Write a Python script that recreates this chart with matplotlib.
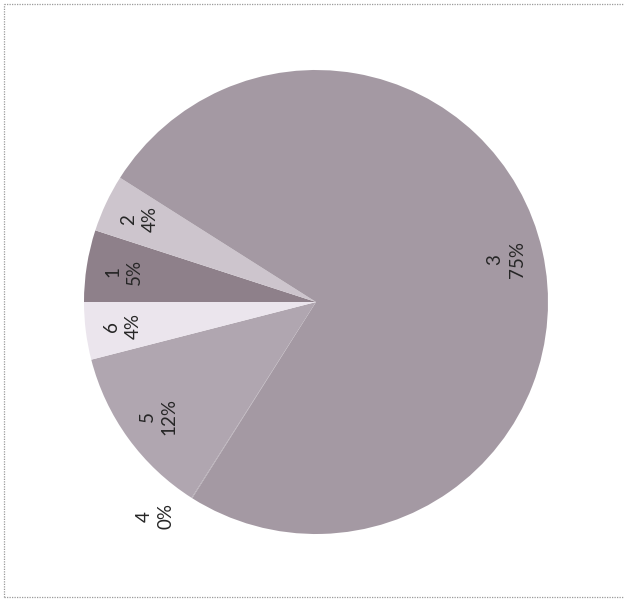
import matplotlib.pyplot as plt
import numpy as np

# slice data (order as drawn clockwise from the left)
categories = ['1', '2', '3', '4', '5', '6']
values = [5, 4, 75, 0.05, 12, 4]
pct_labels = ['5%', '4%', '75%', '0%', '12%', '4%']
colors = ['#8e808a', '#cdc5cd', '#a499a3', '#a89ea8', '#b0a6b0', '#ebe5ed']

plt.rcParams['font.family'] = ['Lato', 'DejaVu Sans']

fig = plt.figure(figsize=(6.24, 6.02), dpi=100)
W, H = 624, 602
cx, cy, r = 316, 302, 232
ax = fig.add_axes([(cx - r) / W, (H - cy - r) / H, 2 * r / W, 2 * r / H])

wedges, _ = ax.pie(values, colors=colors, startangle=180, counterclock=False,
                   radius=1, wedgeprops=dict(linewidth=0))
ax.set_xlim(-1, 1)
ax.set_ylim(-1, 1)
ax.set_aspect('equal')
ax.axis('off')

# labels: inside end, rotated like the scan; the 0% one sits outside
for w, cat, pct in zip(wedges, categories, pct_labels):
    ang = (w.theta1 + w.theta2) / 2
    dist = 0.84
    if cat == '4':
        ang -= 4.5
        dist = 1.155
    a = np.deg2rad(ang)
    ax.text(dist * np.cos(a), dist * np.sin(a), cat + '\n' + pct,
            rotation=90, ha='center', va='center', fontsize=13.5,
            color='#262626', linespacing=1.35, multialignment='center')

# dotted frame around the chart
frame_kw = dict(color='#9a9a9a', linestyle=(0, (1, 1)), linewidth=0.9,
                transform=fig.transFigure)
x0, x1 = 4 / W, 1.0
y0, y1 = 1 - 597 / H, 1 - 4 / H
fig.add_artist(plt.Line2D([x0, x1], [y1, y1], **frame_kw))
fig.add_artist(plt.Line2D([x0, x1], [y0, y0], **frame_kw))
fig.add_artist(plt.Line2D([x0, x0], [y0, y1], **frame_kw))

fig.savefig('out.png', dpi=100)
